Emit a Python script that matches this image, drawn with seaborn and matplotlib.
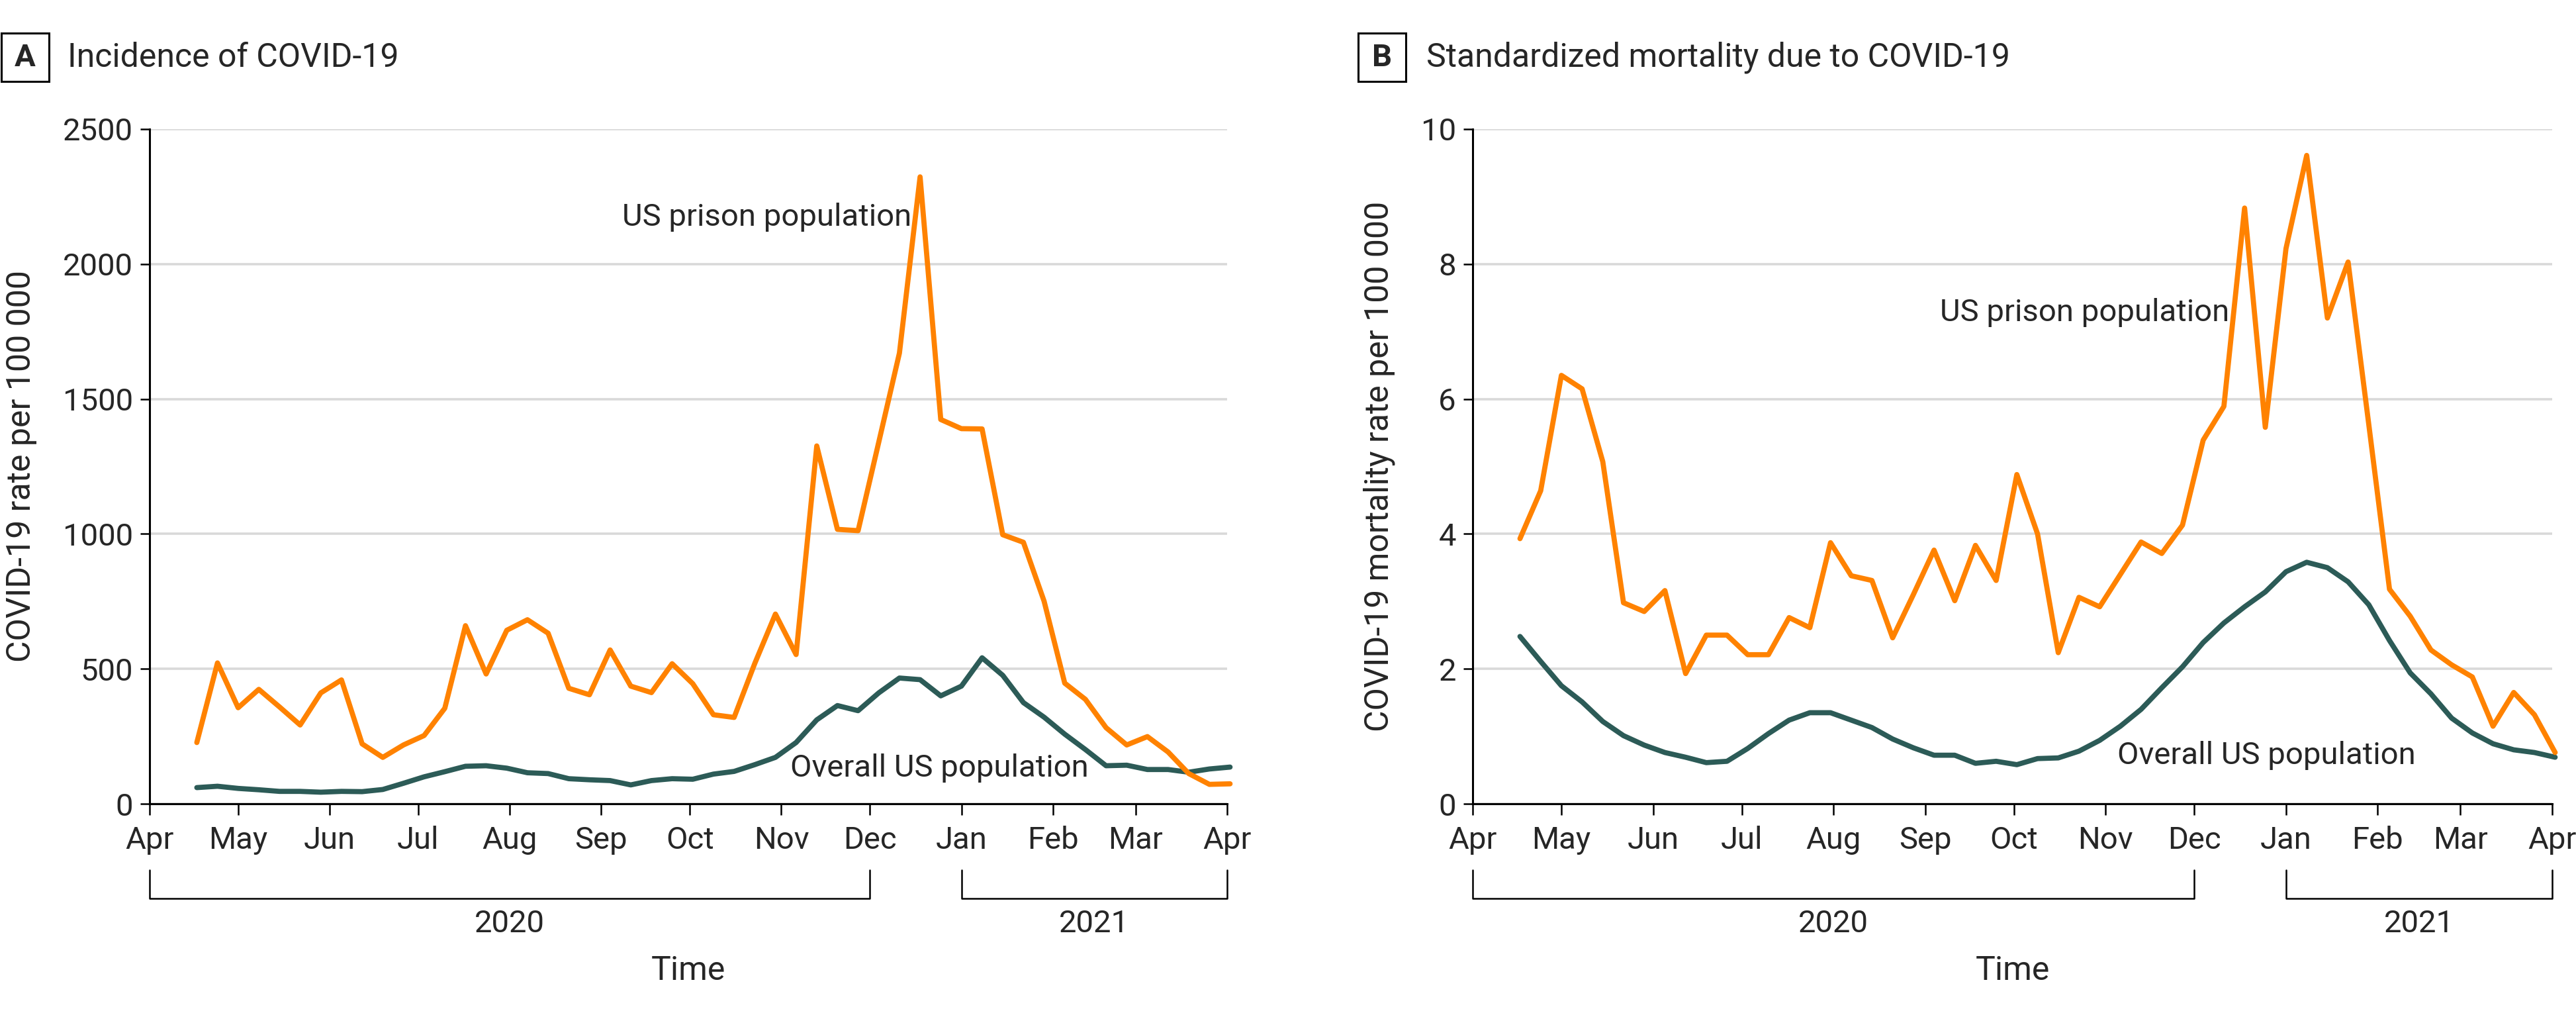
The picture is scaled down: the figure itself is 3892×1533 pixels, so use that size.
import pandas as pd
import numpy as np
import matplotlib.pyplot as plt
import matplotlib.dates as mdates
import matplotlib.transforms as mtransforms
from matplotlib.patches import Rectangle
import seaborn as sns

# weekly points
weeks = pd.date_range("2020-04-17", periods=51, freq="7D")

incidence_prison = [227, 522, 356, 424, 359, 292, 411, 459, 222, 172,
                    218, 253, 354, 660, 481, 643, 682, 632, 428, 404,
                    570, 436, 412, 519, 445, 330, 320, 520, 703, 553,
                    1326, 1017, 1012, 1340, 1670, 2323, 1424, 1390, 1389, 997,
                    969, 751, 447, 387, 282, 218, 249, 192, 112, 72, 74]
incidence_us = [60, 65, 57, 52, 46, 46, 43, 46, 45, 53,
                76, 100, 119, 139, 141, 132, 115, 112, 93, 89,
                86, 70, 86, 93, 91, 110, 120, 145, 172, 227,
                311, 364, 345, 411, 466, 460, 400, 436, 541, 476,
                375, 321, 258, 201, 141, 143, 127, 127, 117, 129, 136]

mortality_prison = [3.93, 4.64, 6.35, 6.15, 5.07, 2.98, 2.85, 3.16, 1.93, 2.50,
                    2.50, 2.21, 2.21, 2.76, 2.61, 3.87, 3.38, 3.31, 2.46, 3.10,
                    3.76, 3.01, 3.83, 3.31, 4.88, 4.00, 2.24, 3.06, 2.92, 3.40,
                    3.88, 3.71, 4.13, 5.39, 5.89, 8.83, 5.58, 8.23, 9.61, 7.20,
                    8.03, 5.62, 3.18, 2.78, 2.28, 2.06, 1.88, 1.15, 1.65, 1.32, 0.76]
mortality_us = [2.48, 2.11, 1.75, 1.51, 1.22, 1.01, 0.87, 0.76, 0.69, 0.61,
                0.63, 0.82, 1.04, 1.24, 1.35, 1.35, 1.24, 1.13, 0.96, 0.83,
                0.72, 0.72, 0.60, 0.63, 0.58, 0.67, 0.68, 0.78, 0.94, 1.15,
                1.40, 1.72, 2.03, 2.39, 2.68, 2.92, 3.14, 3.44, 3.58, 3.50,
                3.29, 2.95, 2.42, 1.94, 1.63, 1.27, 1.05, 0.89, 0.80, 0.76, 0.69]

ORANGE = "#FF8200"
TEAL = "#2C5B57"

sns.set_style("white")
plt.rcParams["font.family"] = ["Roboto", "DejaVu Sans"]
FS = 17

W, H, DPI = 3892, 1533, 200
fig = plt.figure(figsize=(W / DPI, H / DPI), dpi=DPI)

ax_bottom = 1 - 1214 / H
ax_height = (1214 - 195) / H
axA = fig.add_axes([226 / W, ax_bottom, (1854 - 226) / W, ax_height])
axB = fig.add_axes([2225 / W, ax_bottom, (3856 - 2225) / W, ax_height])


def draw_panel(ax, prison, us, ymax, ystep, ylabel, prison_pos, us_pos):
    df = pd.DataFrame({"week": weeks, "prison": prison, "us": us})
    sns.lineplot(data=df, x="week", y="us", ax=ax, color=TEAL, lw=2.8,
                 clip_on=False, zorder=3)
    sns.lineplot(data=df, x="week", y="prison", ax=ax, color=ORANGE, lw=2.8,
                 clip_on=False, zorder=4)

    ax.set_xlim(pd.Timestamp("2020-04-01"), pd.Timestamp("2021-04-01"))
    ax.set_ylim(0, ymax)
    ax.set_yticks(np.arange(0, ymax + ystep / 2, ystep))
    ax.xaxis.set_major_locator(mdates.MonthLocator())
    ax.xaxis.set_major_formatter(mdates.DateFormatter("%b"))

    ax.grid(axis="y", color="#D9D9D9", lw=1.3)
    ax.grid(axis="x", visible=False)
    ax.set_axisbelow(True)
    for s in ["top", "right"]:
        ax.spines[s].set_visible(False)
    for s in ["left", "bottom"]:
        ax.spines[s].set_color("black")
        ax.spines[s].set_linewidth(1.1)
    ax.tick_params(axis="y", length=5, width=0.9, color="black", pad=4,
                   labelsize=FS, left=True)
    ax.tick_params(axis="x", length=6, width=0.9, color="black", pad=6,
                   labelsize=FS, bottom=True)
    ax.set_xlabel("")
    ax.set_ylabel(ylabel, fontsize=FS + 1, labelpad=14)

    # year brackets below the month labels
    trans = mtransforms.blended_transform_factory(ax.transData, ax.transAxes)
    y_top, y_bot = -0.098, -0.14
    for start, end, year in [("2020-04-01", "2020-12-01", "2020"),
                             ("2021-01-01", "2021-04-01", "2021")]:
        x0 = mdates.date2num(pd.Timestamp(start))
        x1 = mdates.date2num(pd.Timestamp(end))
        ax.plot([x0, x0, x1, x1], [y_top, y_bot, y_bot, y_top], color="black",
                lw=0.9, transform=trans, clip_on=False)
        ax.text((x0 + x1) / 2, -0.178, year, transform=trans, ha="center",
                va="center", fontsize=FS)
    ax.text(0.5, -0.247, "Time", transform=ax.transAxes, ha="center",
            va="center", fontsize=FS + 1)

    ax.text(pd.Timestamp(prison_pos[0]), prison_pos[1], "US prison population",
            ha="left", va="center", fontsize=FS)
    ax.text(pd.Timestamp(us_pos[0]), us_pos[1], "Overall US population",
            ha="left", va="center", fontsize=FS)


draw_panel(axA, incidence_prison, incidence_us, 2500, 500,
           "COVID-19 rate per 100 000", ("2020-09-08", 2173), ("2020-11-04", 133))
draw_panel(axB, mortality_prison, mortality_us, 10, 2,
           "COVID-19 mortality rate per 100 000", ("2020-09-06", 7.28),
           ("2020-11-05", 0.72))

# panel letters in boxes plus titles
for x0, letter, title, tx in [(2, "A", "Incidence of COVID-19", 102),
                              (2052, "B", "Standardized mortality due to COVID-19", 2155)]:
    fig.add_artist(Rectangle((x0 / W, 1 - 123 / H), 72 / W, 73 / H,
                             transform=fig.transFigure, fill=False,
                             ec="black", lw=1.1))
    fig.text((x0 + 36) / W, 1 - 87 / H, letter, ha="center", va="center",
             fontsize=FS, fontweight="bold")
    fig.text(tx / W, 1 - 87 / H, title, ha="left", va="center", fontsize=FS + 1)

fig.savefig("out.png", dpi=DPI, facecolor="white")
